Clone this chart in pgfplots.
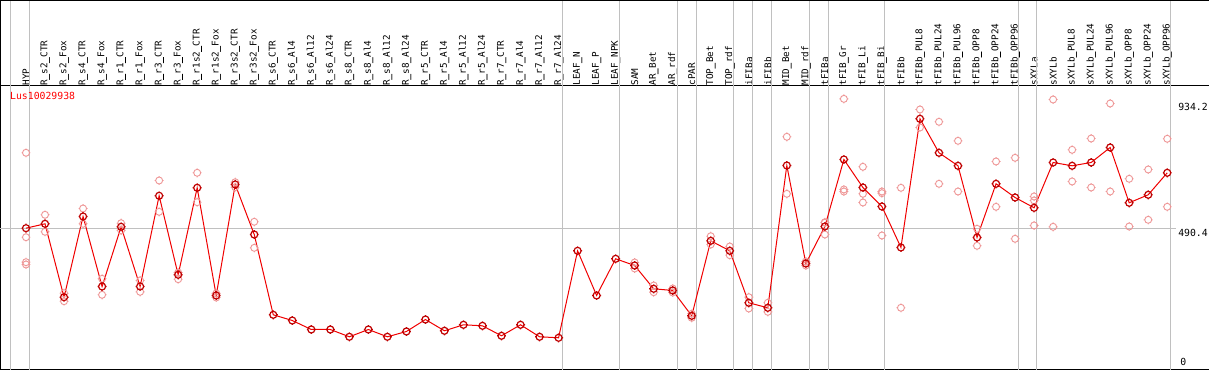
\documentclass[border=0pt]{standalone}
\usepackage{fontspec}
\setmonofont{DejaVu Sans Mono}
\newfontfamily\usfont{DejaVu Sans Mono}[FakeBold=2.5]
\newcommand{\us}{{\usfont\_}}
\usepackage{pgfplots}
\pgfplotsset{compat=1.18}
\usepackage{pgfplotstable}
\definecolor{pinkc}{RGB}{238,150,150}
\definecolor{sepgray}{RGB}{192,192,192}
\definecolor{mainred}{RGB}{240,0,0}
\pgfdeclareplotmark{tickcirc}{%
  \pgfpathcircle{\pgfpointorigin}{\pgfplotmarksize}%
  \pgfpathmoveto{\pgfqpoint{0pt}{\pgfplotmarksize}}\pgfpathlineto{\pgfqpoint{0pt}{1.28\pgfplotmarksize}}%
  \pgfpathmoveto{\pgfqpoint{0pt}{-\pgfplotmarksize}}\pgfpathlineto{\pgfqpoint{0pt}{-1.28\pgfplotmarksize}}%
  \pgfpathmoveto{\pgfqpoint{\pgfplotmarksize}{0pt}}\pgfpathlineto{\pgfqpoint{1.28\pgfplotmarksize}{0pt}}%
  \pgfpathmoveto{\pgfqpoint{-\pgfplotmarksize}{0pt}}\pgfpathlineto{\pgfqpoint{-1.28\pgfplotmarksize}{0pt}}%
  \pgfusepathqstroke}

\pgfplotstableread{
x y
0 492.7
1 507.7
2 257.1
3 532.6
4 293.6
5 497.4
6 293.6
7 603.3
8 333.6
9 630.6
10 262.9
11 641.9
12 471.1
13 197.0
14 177.5
15 146.8
16 146.8
17 121.9
18 146.8
19 121.9
20 140.0
21 180.9
22 142.4
23 162.9
24 159.4
25 125.3
26 162.9
27 121.9
28 118.5
29 415.5
30 262.9
31 388.2
32 365.3
33 285.8
34 280.0
35 193.6
36 449.6
37 415.5
38 238.0
39 220.9
40 706.7
41 372.1
42 498.5
43 727.2
44 631.6
45 566.7
46 426.8
47 866.2
48 750.1
49 705.7
50 460.9
51 644.2
52 597.5
53 562.3
54 717.0
55 705.7
56 717.0
57 768.2
58 579.4
59 606.7
60 681.8
}\meantable

\pgfplotstableread{
x y
0 750.1
0 461.9
0 376.6
0 368.7
1 538.4
1 480.4
2 270.7
2 243.4
3 559.9
3 507.7
4 319.9
4 265.3
5 509.7
5 485.0
6 314.1
6 275.5
7 655.5
7 548.6
8 341.4
8 318.5
9 681.8
9 581.4
10 270.0
10 256.0
11 649.7
11 632.6
12 514.5
12 425.7
32 355.1
32 375.6
33 274.2
33 297.0
34 286.8
34 273.1
35 186.7
35 200.4
36 465.3
36 437.0
37 430.2
37 400.5
38 257.1
38 218.5
39 238.0
39 207.2
40 804.7
40 610.1
41 379.0
41 365.3
42 511.1
42 471.1
42 513.0
43 934.2
43 624.8
43 617.9
44 702.3
44 610.1
44 580.4
45 617.9
45 612.2
45 467.7
46 630.6
46 220.9
47 897.9
47 836.5
48 855.9
48 644.2
49 791.0
49 617.9
50 490.6
50 432.6
51 720.4
51 565.7
52 733.0
52 456.5
53 600.9
53 587.2
53 501.9
54 932.0
54 497.4
55 760.3
55 652.1
56 798.9
56 631.6
57 918.4
57 617.9
58 661.3
58 498.5
59 693.1
59 521.3
60 797.9
60 565.7
}\reptable

\begin{document}
\begin{tikzpicture}
\begin{axis}[
  scale only axis,
  width=1209bp, height=284bp,
  xmin=-1.367, xmax=62.198,
  ymin=10.24, ymax=979.85,
  axis line style={black, line width=1bp},
  clip=false,
  ytick=\empty,
  xtick={0,...,60},
  major tick length=0pt,
  xticklabel pos=upper,
  xticklabel shift=2bp,
  xticklabel style={rotate=90, anchor=west, inner sep=0pt,
    font=\fontsize{9.3bp}{11bp}\ttfamily, xshift=-2bp},
  xticklabels={HYP,R\us s2\us CTR,R\us s2\us Fox,R\us s4\us CTR,R\us s4\us Fox,R\us r1\us CTR,R\us r1\us Fox,R\us r3\us CTR,R\us r3\us Fox,R\us r1s2\us CTR,R\us r1s2\us Fox,R\us r3s2\us CTR,R\us r3s2\us Fox,R\us s6\us CTR,R\us s6\us Al4,R\us s6\us Al12,R\us s6\us Al24,R\us s8\us CTR,R\us s8\us Al4,R\us s8\us Al12,R\us s8\us Al24,R\us r5\us CTR,R\us r5\us Al4,R\us r5\us Al12,R\us r5\us Al24,R\us r7\us CTR,R\us r7\us Al4,R\us r7\us Al12,R\us r7\us Al24,LEAF\us N,LEAF\us P,LEAF\us NPK,SAM,AR\us Bet,AR\us rdf,cPAR,TOP\us Bet,TOP\us rdf,iFIBa,iFIBb,MID\us Bet,MID\us rdf,tFIBa,tFIB\us Gr,tFIB\us Li,tFIB\us Bi,tFIBb,tFIBb\us PUL8,tFIBb\us PUL24,tFIBb\us PUL96,tFIBb\us OPP8,tFIBb\us OPP24,tFIBb\us OPP96,sXYLa,sXYLb,sXYLb\us PUL8,sXYLb\us PUL24,sXYLb\us PUL96,sXYLb\us OPP8,sXYLb\us OPP24,sXYLb\us OPP96},
]
% separators
\pgfplotsinvokeforeach{-0.841,0.210,28.18,31.18,34.23,35.23,37.17,38.17,39.22,41.17,42.17,45.16,52.16,53.15,60.15}{
  \draw[sepgray, line width=1bp] (axis cs:#1,10.24) -- ([yshift=84.5bp]axis cs:#1,979.85);
}
\draw[sepgray, line width=1bp] (axis cs:-1.367,490.4) -- (axis cs:60.46,490.4);
% header frame
\draw[black, line width=1bp] (rel axis cs:0,1) -- ([yshift=84.5bp]rel axis cs:0,1) -- ([yshift=84.5bp]rel axis cs:1,1) -- (rel axis cs:1,1);
\addplot[only marks, mark=tickcirc, mark size=3.5bp, pinkc, mark options={line width=0.9bp}] table[x=x,y=y]{\reptable};
\addplot[mainred, line width=1bp, mark=tickcirc, mark size=3.5bp, mark options={line width=1.2bp, draw=red!75!black}] table[x=x,y=y]{\meantable};
\node[anchor=north west, inner sep=0pt, text=red, font=\fontsize{9.8bp}{11bp}\ttfamily] at ([xshift=10bp,yshift=-7bp]rel axis cs:0,1) {Lus10029938};
\node[anchor=west, inner sep=0pt, font=\fontsize{9.8bp}{11bp}\ttfamily] at ([xshift=-31bp,yshift=-8.4bp]axis cs:62.198,934.2) {934.2};
\node[anchor=west, inner sep=0pt, font=\fontsize{9.8bp}{11bp}\ttfamily] at ([xshift=-31bp,yshift=-3.6bp]axis cs:62.198,490.4) {490.4};
\node[anchor=west, inner sep=0pt, font=\fontsize{9.8bp}{11bp}\ttfamily] at ([xshift=-29bp,yshift=10.3bp]axis cs:62.198,0) {0};
\end{axis}
\pgfresetboundingbox
\path (0,-0.5bp) rectangle (1209bp,369.5bp);
\end{tikzpicture}
\end{document}
